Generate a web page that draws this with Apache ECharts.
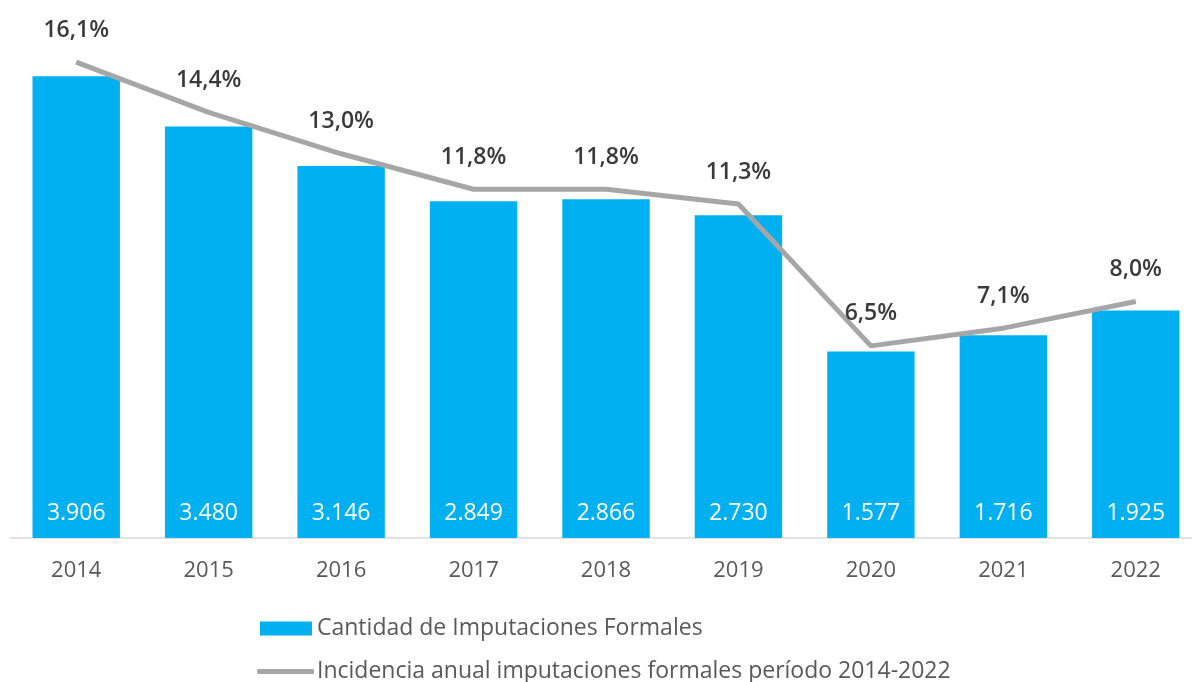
<!DOCTYPE html>
<html>
<head>
<meta charset="utf-8">
<script src="https://cdn.jsdelivr.net/npm/echarts@6/dist/echarts.min.js"></script>
<style>
  html, body { margin: 0; padding: 0; background: #fff; }
  #chart { width: 1192px; height: 682px; }
</style>
</head>
<body>
<div id="chart"></div>
<script>
const years = ['2014', '2015', '2016', '2017', '2018', '2019', '2020', '2021', '2022'];
const imputaciones = [3906, 3480, 3146, 2849, 2866, 2730, 1577, 1716, 1925];
const incidencia = [16.1, 14.4, 13.0, 11.8, 11.8, 11.3, 6.5, 7.1, 8.0];

const fontFamily = '"Open Sans", sans-serif';
const barName = 'Cantidad de Imputaciones Formales';
const lineName = 'Incidencia anual imputaciones formales período 2014-2022';

const chart = echarts.init(document.getElementById('chart'));

const option = {
  backgroundColor: '#fff',
  animation: false,
  textStyle: { fontFamily },
  grid: {
    left: 10,
    right: -10,
    top: 6,
    bottom: 144,
    outerBoundsMode: 'none',
    containLabel: false
  },
  legend: [
    {
      left: 260,
      top: 617,
      padding: 0,
      itemWidth: 52,
      itemHeight: 14,
      textStyle: { fontSize: 23, color: '#595959', fontFamily, padding: [0, 0, 0, 0] },
      data: [{ name: barName, icon: 'rect' }]
    },
    {
      left: 257,
      top: 660,
      padding: 0,
      itemWidth: 57,
      itemHeight: 5,
      textStyle: { fontSize: 23, color: '#595959', fontFamily, padding: [0, 0, 0, -2] },
      data: [{ name: lineName, icon: 'roundRect' }]
    }
  ],
  xAxis: {
    type: 'category',
    data: years,
    axisTick: { show: false },
    axisLine: { lineStyle: { color: '#d9d9d9', width: 1.5 } },
    axisLabel: { fontSize: 22, color: '#595959', margin: 22, fontFamily }
  },
  yAxis: [
    { type: 'value', min: 0, max: 4500, show: false, splitLine: { show: false } },
    { type: 'value', min: 0, max: 18, show: false, splitLine: { show: false } }
  ],
  series: [
    {
      name: barName,
      type: 'bar',
      data: imputaciones,
      barCategoryGap: '34%',
      itemStyle: { color: '#00b0f0' },
      label: {
        show: true,
        position: 'insideBottom',
        distance: 13,
        color: '#fff',
        fontSize: 23,
        fontFamily,
        formatter: p => p.value.toLocaleString('de-DE')
      }
    },
    {
      name: lineName,
      type: 'line',
      yAxisIndex: 1,
      data: incidencia,
      symbol: 'circle',
      symbolSize: 1,
      lineStyle: { color: '#a6a6a6', width: 5 },
      itemStyle: { color: '#a6a6a6' },
      label: {
        show: true,
        position: 'top',
        distance: 20,
        color: '#3a3a3a',
        fontSize: 23,
        fontWeight: 600,
        fontFamily,
        formatter: p => p.value.toFixed(1).replace('.', ',') + '%'
      }
    }
  ]
};

chart.setOption(option);
</script>
</body>
</html>
